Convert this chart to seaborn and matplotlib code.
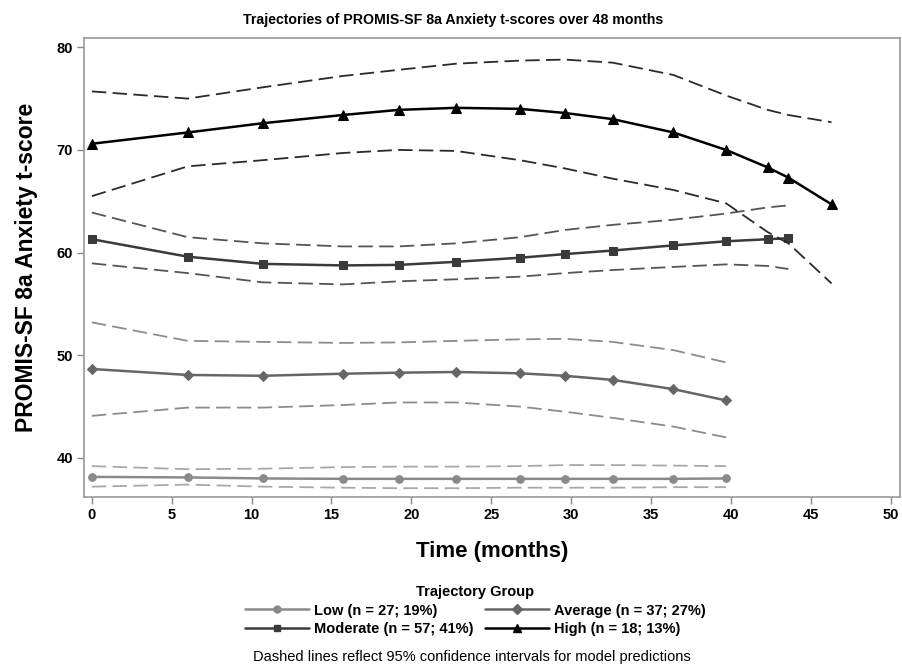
import matplotlib
matplotlib.use("Agg")
import matplotlib.pyplot as plt
from matplotlib import font_manager
import seaborn as sns
import pandas as pd
from matplotlib.lines import Line2D

# ---- data ----
months = [0, 6, 10.7, 15.7, 19.2, 22.8, 26.8, 29.6, 32.6, 36.4, 39.7, 42.3, 43.6, 46.3]

low_mean = [38.15, 38.1, 38.0, 37.96, 37.96, 37.96, 37.96, 37.96, 37.96, 37.96, 38.0]
low_upper = [39.2, 38.9, 38.95, 39.1, 39.15, 39.15, 39.2, 39.3, 39.3, 39.25, 39.2]
low_lower = [37.2, 37.4, 37.2, 37.1, 37.05, 37.05, 37.1, 37.1, 37.1, 37.15, 37.15]

avg_mean = [48.66, 48.08, 48.0, 48.2, 48.3, 48.37, 48.24, 48.0, 47.6, 46.7, 45.6]
avg_upper = [53.2, 51.4, 51.3, 51.2, 51.25, 51.4, 51.55, 51.6, 51.3, 50.5, 49.3]
avg_lower = [44.1, 44.9, 44.9, 45.15, 45.4, 45.4, 45.0, 44.5, 43.9, 43.05, 42.0]

mod_mean = [61.3, 59.6, 58.9, 58.75, 58.8, 59.1, 59.5, 59.85, 60.2, 60.7, 61.1, 61.3, 61.4]
mod_upper = [63.9, 61.5, 60.9, 60.6, 60.6, 60.9, 61.5, 62.2, 62.7, 63.2, 63.8, 64.4, 64.6]
mod_lower = [58.95, 58.0, 57.1, 56.9, 57.2, 57.4, 57.65, 58.0, 58.3, 58.6, 58.85, 58.7, 58.4]

high_mean = [70.6, 71.7, 72.6, 73.4, 73.9, 74.1, 74.0, 73.6, 73.0, 71.7, 70.0, 68.3, 67.3, 64.7]
high_upper = [75.7, 75.0, 76.1, 77.2, 77.8, 78.4, 78.7, 78.8, 78.5, 77.3, 75.3, 73.9, 73.4, 72.7]
high_lower = [65.5, 68.4, 69.0, 69.7, 70.0, 69.9, 69.0, 68.2, 67.2, 66.1, 64.8, 62.0, 60.9, 57.0]

group_labels = ["Low (n = 27; 19%)", "Average (n = 37; 27%)",
                "Moderate (n = 57; 41%)", "High (n = 18; 13%)"]
x_ticks = [0, 5, 10, 15, 20, 25, 30, 35, 40, 45, 50]
y_ticks = [40, 50, 60, 70, 80]

# ---- style ----
sns.set_theme(style="white")
plt.rcParams['font.family'] = ['Liberation Sans', 'DejaVu Sans']
plt.rcParams['text.color'] = 'black'
plt.rcParams['axes.labelcolor'] = 'black'
plt.rcParams['xtick.color'] = 'black'
plt.rcParams['ytick.color'] = 'black'
names = {f.name for f in font_manager.fontManager.ttflist}
narrow = 'Liberation Sans Narrow' in names

groups = [
    (low_mean, low_upper, low_lower, "o", "#8a8a8a", "#a8a8a8", 5.5),
    (avg_mean, avg_upper, avg_lower, "D", "#666666", "#8c8c8c", 5.5),
    (mod_mean, mod_upper, mod_lower, "s", "#3a3a3a", "#555555", 5.5),
    (high_mean, high_upper, high_lower, "^", "#000000", "#2a2a2a", 6.5),
]

fig = plt.figure(figsize=(9.02, 6.67), dpi=100)
ax = fig.add_axes([0.093, 0.255, 0.905, 0.688])

handles = []
for (mean, up, lo, mk, col, cicol, ms), lab in zip(groups, group_labels):
    n = len(mean)
    t = months[:n]
    df = pd.DataFrame({"t": t, "mean": mean, "up": up, "lo": lo})
    sns.lineplot(data=df, x="t", y="up", ax=ax, color=cicol, lw=1.3,
                 linestyle=(0, (8, 3.5)), legend=False)
    sns.lineplot(data=df, x="t", y="lo", ax=ax, color=cicol, lw=1.3,
                 linestyle=(0, (8, 3.5)), legend=False)
    sns.lineplot(data=df, x="t", y="mean", ax=ax, color=col, lw=1.8,
                 marker=mk, markersize=ms, markeredgecolor=col, legend=False)
    handles.append(Line2D([], [], color=col, lw=1.8, marker=mk,
                          markersize=ms - 0.5, markeredgecolor=col, label=lab))

ax.set_xlim(-0.5, 50.6)
ax.set_ylim(36.2, 80.9)
ax.set_xticks(x_ticks)
ax.set_yticks(y_ticks)
ax.set_xticklabels([str(v) for v in x_ticks], fontsize=10.5, fontweight="bold")
ax.set_yticklabels([str(v) for v in y_ticks], fontsize=10.5, fontweight="bold")
ax.tick_params(axis="both", direction="out", length=5, width=1, color="#888888",
               labelcolor="black", bottom=True, left=True, pad=3)
for s in ax.spines.values():
    s.set_color("#999999")
    s.set_linewidth(1.2)

ax.set_xlabel("Time (months)", fontsize=16, fontweight="bold", labelpad=14)
ax.set_ylabel("PROMIS-SF 8a Anxiety t-score", fontsize=16.5, fontweight="bold", labelpad=13)
title = "Trajectories of PROMIS-SF 8a Anxiety t-scores over 48 months"
if narrow:
    ax.set_title(title, fontsize=12.5, fontweight="bold", pad=10, x=0.452,
                 family=['Liberation Sans Narrow', 'Liberation Sans'])
else:
    ax.set_title(title, fontsize=10.2, fontweight="bold", pad=10, x=0.452)

# legend (column-major fill -> reorder so rows read Low/Average, Moderate/High)
order = [handles[0], handles[2], handles[1], handles[3]]
leg = fig.legend(handles=order, loc="upper center", bbox_to_anchor=(0.527, 0.138),
                 ncol=2, frameon=False, fontsize=10.5, handlelength=4.4,
                 columnspacing=0.8, handletextpad=0.35, labelspacing=0.3,
                 borderpad=0.2, title="Trajectory Group", title_fontsize=10.5)
for txt in leg.get_texts():
    txt.set_fontweight("bold")
leg.get_title().set_fontweight("bold")

fig.text(0.523, 0.005, "Dashed lines reflect 95% confidence intervals for model predictions",
         ha="center", va="bottom", fontsize=10.5)

fig.savefig("out.png", dpi=100)
